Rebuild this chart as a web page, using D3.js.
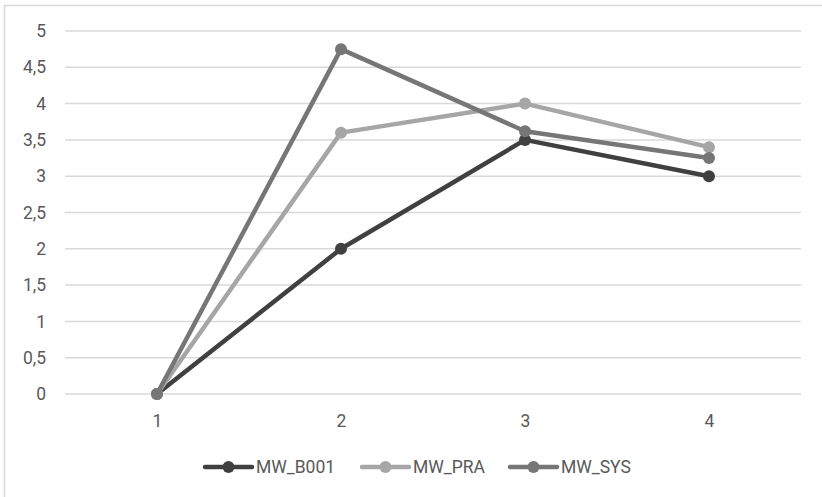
<!DOCTYPE html>
<html><head><meta charset="utf-8">
<script src="https://cdn.jsdelivr.net/npm/d3@7"></script>
<style>body{margin:0;background:#fff;}svg{display:block;font-family:Roboto,"Noto Sans",sans-serif;}</style>
</head><body>
<svg id="c" width="822" height="497"></svg>
<script>
const categories = ["1","2","3","4"];
const seriesNames = ["MW_B001","MW_PRA","MW_SYS"];
const valuesB001 = [0, 2, 3.5, 3];
const valuesPRA = [0, 3.6, 4, 3.4];
const valuesSYS = [0, 4.75, 3.62, 3.25];
const yTicks = [0,0.5,1,1.5,2,2.5,3,3.5,4,4.5,5];
const colors = ["#404040","#a6a6a6","#767676"];

const series = [
  {name: seriesNames[0], values: valuesB001, color: colors[0]},
  {name: seriesNames[1], values: valuesPRA, color: colors[1]},
  {name: seriesNames[2], values: valuesSYS, color: colors[2]}
];

const FONT = "17.5px";
const svg = d3.select("#c");
svg.append("path").attr("d","M4.5,497 V5.5 H822").attr("fill","none").attr("stroke","#d9d9d9").attr("stroke-width",1.5);

const x = d3.scalePoint().domain(categories).range([65,801]).padding(0.5);
const y = d3.scaleLinear().domain([0,5]).range([394,31]);

svg.append("g").selectAll("line").data(yTicks).join("line")
  .attr("x1",65).attr("x2",801)
  .attr("y1",d=>y(d)).attr("y2",d=>y(d))
  .attr("stroke","#d9d9d9").attr("stroke-width",1.5);

const fmt = d => String(d).replace(".", ",");
const yAxis = svg.append("g").attr("transform","translate(46,0)")
  .call(d3.axisLeft(y).tickValues(yTicks).tickFormat(fmt).tickSize(0).tickPadding(0));
yAxis.select(".domain").remove();
yAxis.selectAll("text").attr("fill","#595959").style("font-size",FONT).style("font-family","Roboto,'Noto Sans',sans-serif");

const xAxis = svg.append("g").attr("transform","translate(0,411)")
  .call(d3.axisBottom(x).tickSize(0).tickPadding(4));
xAxis.select(".domain").remove();
xAxis.selectAll("text").attr("fill","#595959").style("font-size",FONT).style("font-family","Roboto,'Noto Sans',sans-serif");

const line = d3.line().x((d,i)=>x(categories[i])).y(d=>y(d));
series.forEach(s=>{
  svg.append("path").datum(s.values).attr("d",line).attr("fill","none")
    .attr("stroke",s.color).attr("stroke-width",4.5).attr("stroke-linejoin","round").attr("stroke-linecap","round");
});
series.forEach(s=>{
  svg.append("g").selectAll("circle").data(s.values).join("circle")
    .attr("cx",(d,i)=>x(categories[i])).attr("cy",d=>y(d)).attr("r",6).attr("fill",s.color);
});

const legendX = [205, 362, 510];
const lg = svg.append("g");
series.forEach((s,i)=>{
  const g = lg.append("g").attr("transform",`translate(${legendX[i]},467)`);
  g.append("line").attr("x1",0).attr("x2",47).attr("y1",0).attr("y2",0).attr("stroke",s.color).attr("stroke-width",4.5).attr("stroke-linecap","round");
  g.append("circle").attr("cx",23.5).attr("cy",0).attr("r",6).attr("fill",s.color);
  g.append("text").attr("x",51).attr("y",0).attr("dy","0.35em").attr("fill","#595959").style("font-size",FONT).text(s.name);
});
</script>
</body></html>
